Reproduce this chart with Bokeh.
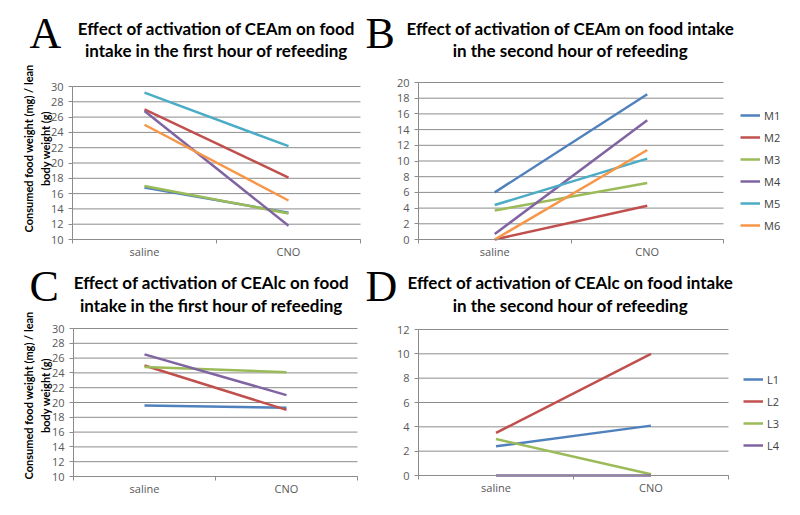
import math
from bokeh.plotting import figure
from bokeh.models import Range1d, FixedTicker, Label, Legend, LegendItem, LinearAxis
from bokeh.layouts import gridplot
from bokeh.embed import file_html
from bokeh.resources import INLINE

# ---------------- data ----------------
categories = ["saline", "CNO"]

# Panel A: CEAm, first hour
a_names = ["M1", "M2", "M3", "M4", "M5", "M6"]
a_m1 = [16.8, 13.5]
a_m2 = [27.0, 18.1]
a_m3 = [17.0, 13.4]
a_m4 = [26.8, 11.8]
a_m5 = [29.2, 22.2]
a_m6 = [25.0, 15.1]
a_ticks = [10, 12, 14, 16, 18, 20, 22, 24, 26, 28, 30]

# Panel B: CEAm, second hour
b_names = ["M1", "M2", "M3", "M4", "M5", "M6"]
b_m1 = [6.0, 18.5]
b_m2 = [0.0, 4.3]
b_m3 = [3.7, 7.2]
b_m4 = [0.7, 15.2]
b_m5 = [4.4, 10.3]
b_m6 = [0.0, 11.4]
b_ticks = [0, 2, 4, 6, 8, 10, 12, 14, 16, 18, 20]

# Panel C: CEAlc, first hour
c_names = ["L1", "L2", "L3", "L4"]
c_l1 = [19.6, 19.3]
c_l2 = [25.0, 19.0]
c_l3 = [24.8, 24.1]
c_l4 = [26.5, 21.0]
c_ticks = [10, 12, 14, 16, 18, 20, 22, 24, 26, 28, 30]

# Panel D: CEAlc, second hour
d_names = ["L1", "L2", "L3", "L4"]
d_l1 = [2.4, 4.1]
d_l2 = [3.5, 10.0]
d_l3 = [3.0, 0.1]
d_l4 = [0.0, 0.0]
d_ticks = [0, 2, 4, 6, 8, 10, 12]

palette = ["#4F81BD", "#C0504D", "#9BBB59", "#8064A2", "#4BACC6", "#F79646"]

GRID = "#8c8c8c"
TICKTXT = "#595959"
TITLE_FONT = "Lato"
LETTER_FONT = "Liberation Serif"


class Panel:
    """A figure whose frame fills the whole canvas; the plotting box is placed by ranges."""

    def __init__(self, origin, size, box, ticks, series, names):
        ox, oy = origin
        W, H = size
        bl, bt, br, bb = box  # pixel box of the data area
        n = len(categories)
        self.ox, self.oy, self.W, self.H = ox, oy, W, H
        l, r = bl - ox, br - ox
        t, b = bt - oy, bb - oy
        y0, y1 = ticks[0], ticks[-1]
        xpp = n / (r - l)
        ypp = (y1 - y0) / (b - t)
        p = figure(width=W, height=H, output_backend="svg", toolbar_location=None,
                   title=None, x_axis_location=None, y_axis_location=None,
                   x_range=Range1d(0 - l * xpp, n + (W - r) * xpp),
                   y_range=Range1d(y0 - (H - b) * ypp, y1 + t * ypp),
                   min_border=0)
        p.min_border_left = p.min_border_right = p.min_border_top = p.min_border_bottom = 0
        p.outline_line_color = None
        p.background_fill_color = "white"
        p.border_fill_color = "white"
        for g in p.grid:
            g.visible = False

        # horizontal grid lines at each y tick, across the category span
        p.segment(x0=[0] * len(ticks), x1=[n] * len(ticks), y0=ticks, y1=ticks,
                  line_color=GRID, line_width=1)

        xs = [i + 0.5 for i in range(n)]
        xaxis = LinearAxis(fixed_location=y0, bounds=(0, n),
                           ticker=FixedTicker(ticks=xs, minor_ticks=list(range(n + 1))))
        xaxis.major_label_overrides = {x: c for x, c in zip(xs, categories)}
        xaxis.major_tick_out = 0
        xaxis.major_tick_in = 0
        xaxis.minor_tick_out = 4
        xaxis.minor_tick_in = 0
        xaxis.major_label_standoff = 0

        yaxis = LinearAxis(fixed_location=0, bounds=(y0, y1),
                           ticker=FixedTicker(ticks=ticks, minor_ticks=[]))
        yaxis.major_tick_out = 4
        yaxis.major_tick_in = 0
        yaxis.minor_tick_out = 0
        yaxis.minor_tick_in = 0
        yaxis.major_label_standoff = 5

        for ax in (xaxis, yaxis):
            ax.axis_line_color = GRID
            ax.major_tick_line_color = GRID
            ax.minor_tick_line_color = GRID
            ax.major_label_text_font = "Open Sans"
            ax.major_label_text_font_size = "11px"
            ax.major_label_text_color = TICKTXT
        p.add_layout(xaxis, "below")
        p.add_layout(yaxis, "left")

        self.renderers = []
        for i, vals in enumerate(series):
            self.renderers.append(p.line(xs, vals, line_color=palette[i], line_width=2.5))
        self.names = names
        self.p = p

    def text(self, px, py, text, font, size, bold=False, align="center",
             baseline="middle", angle=0.0, color="black"):
        self.p.add_layout(Label(x=px - self.ox, y=self.oy + self.H - py,
                                x_units="screen", y_units="screen", text=text,
                                text_font=font, text_font_size=size,
                                text_font_style="bold" if bold else "normal",
                                text_align=align, text_baseline=baseline,
                                angle=angle, angle_units="rad", text_color=color))

    def legend(self, px_left, py_bottom):
        items = [LegendItem(label=nm, renderers=[r]) for nm, r in zip(self.names, self.renderers)]
        lg = Legend(items=items, location=(px_left - self.ox, self.oy + self.H - py_bottom),
                    glyph_width=20, glyph_height=20, label_height=20, label_width=20,
                    spacing=2, padding=0, margin=0, border_line_color=None,
                    background_fill_alpha=0, label_text_font="Open Sans",
                    label_text_font_size="11px", label_text_color="#404040",
                    label_standoff=4)
        self.p.add_layout(lg)


# ---------------- panels (pixel layout) ----------------
A = Panel((0, 0), (396, 260), (72, 86, 360, 239), a_ticks,
          [a_m1, a_m2, a_m3, a_m4, a_m5, a_m6], a_names)
B = Panel((396, 0), (388, 260), (418, 82, 723, 239), b_ticks,
          [b_m1, b_m2, b_m3, b_m4, b_m5, b_m6], b_names)
C = Panel((0, 260), (396, 239), (73, 328, 357, 476), c_ticks,
          [c_l1, c_l2, c_l3, c_l4], c_names)
D = Panel((396, 260), (388, 239), (418, 329, 728, 475), d_ticks,
          [d_l1, d_l2, d_l3, d_l4], d_names)

B.legend(740, 235)
D.legend(743, 455)

TS = "17px"
A.text(216, 28, "Effect of activation of CEAm on food", TITLE_FONT, TS, bold=True)
A.text(216, 50, "intake in the first hour of refeeding", TITLE_FONT, TS, bold=True)
B.text(570, 28, "Effect of activation of CEAm on food intake", TITLE_FONT, TS, bold=True)
B.text(570, 50, "in the second hour of refeeding", TITLE_FONT, TS, bold=True)
C.text(211, 282, "Effect of activation of CEAlc on food", TITLE_FONT, TS, bold=True)
C.text(211, 305, "intake in the first hour of refeeding", TITLE_FONT, TS, bold=True)
D.text(570, 282, "Effect of activation of CEAlc on food intake", TITLE_FONT, TS, bold=True)
D.text(570, 305, "in the second hour of refeeding", TITLE_FONT, TS, bold=True)

LS = "44px"
A.text(29, 33, "A", LETTER_FONT, LS, align="left")
A.text(365, 33, "B", LETTER_FONT, LS, align="left")
C.text(29, 285.5, "C", LETTER_FONT, LS, align="left")
C.text(365, 285.5, "D", LETTER_FONT, LS, align="left")

for P, yc in ((A, 148), (C, 395)):
    P.text(28, yc, "Consumed food weight (mg) / lean", TITLE_FONT, "11px", bold=True,
           angle=math.pi / 2)
    P.text(45, yc, "body weight (g)", TITLE_FONT, "11px", bold=True, angle=math.pi / 2)

grid = gridplot([[A.p, B.p], [C.p, D.p]], toolbar_location=None)
open("out.html", "w").write(file_html(grid, INLINE))
